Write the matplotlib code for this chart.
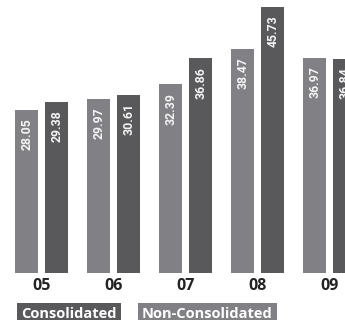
import matplotlib
matplotlib.use("Agg")
import matplotlib.pyplot as plt
import numpy as np

# Fiscal years and values for the two series
years = ["05", "06", "07", "08", "09"]
non_consolidated = [28.05, 29.97, 32.39, 38.47, 36.97]
consolidated = [29.38, 30.61, 36.86, 45.73, 36.84]

LIGHT = "#818185"
DARK = "#59595c"
LABEL_FONT = ["Roboto", "DejaVu Sans"]
BOLD = ["Open Sans", "DejaVu Sans"]

W, H = 345, 320
fig = plt.figure(figsize=(W / 100, H / 100), dpi=100)
base_px = 273
ax = fig.add_axes([0, (H - base_px) / H, 1, base_px / H])

x = np.arange(len(years))
offset = 15 / 72
width = 23 / 72
ax.bar(x - offset, non_consolidated, width, color=LIGHT, linewidth=0)
ax.bar(x + offset, consolidated, width, color=DARK, linewidth=0)

ax.set_xlim(-41.5 / 72, (W - 41.5) / 72)
ax.set_ylim(0, base_px / 5.82)
ax.axis("off")

for xs, vals in ((x - offset, non_consolidated), (x + offset, consolidated)):
    for xi, v in zip(xs, vals):
        ax.annotate(f"{v:.2f}", (xi, v), xytext=(0.5, -6), textcoords="offset points",
                    rotation=90, ha="center", va="top", color="#f4f4f4",
                    fontsize=8.8, fontweight="bold", family=LABEL_FONT)

for xi, lab in zip(x, years):
    ax.annotate(lab, (xi, 0), xytext=(0, -9.5), textcoords="offset points",
                ha="center", va="center", color="#222222",
                fontsize=11.5, fontweight="bold", family=BOLD)

# Legend as labelled boxes
fig.text(21 / W, 1 - 314.5 / H, "Consolidated", ha="left", va="center", color="white",
         fontsize=10.5, fontweight="bold", family=BOLD,
         bbox=dict(boxstyle="square,pad=0.3", fc=DARK, ec="none"))
fig.text(142 / W, 1 - 314.5 / H, "Non-Consolidated", ha="left", va="center", color="white",
         fontsize=10.5, fontweight="bold", family=BOLD,
         bbox=dict(boxstyle="square,pad=0.3", fc=LIGHT, ec="none"))

fig.savefig("out.png", dpi=100)
